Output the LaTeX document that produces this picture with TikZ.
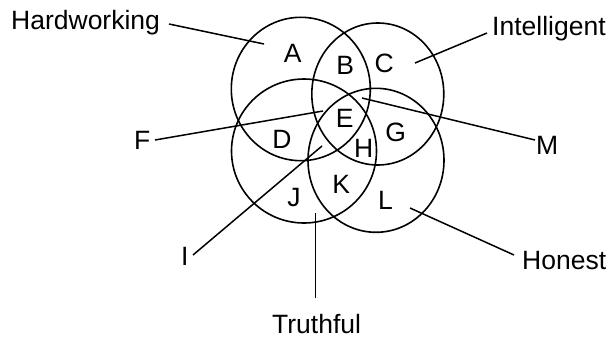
\documentclass[tikz,border=0pt]{standalone}
\usepackage{fontspec}
\setmainfont{Liberation Sans}
\begin{document}
\begin{tikzpicture}[x=1pt,y=-1pt,
  ring/.style={draw=black,line width=1.6pt},
  conn/.style={draw=black,line width=1.5pt},
  lbl/.style={inner sep=0pt,font=\fontsize{26.5}{31}\selectfont},
  region/.style={inner sep=0pt,font=\fontsize{26.5}{31}\selectfont}]
\useasboundingbox (0,0) rectangle (610,340);
% circles
\draw[ring] (300.8,89) ellipse [x radius=69.5, y radius=71.7];
\draw[ring] (377.8,94) ellipse [x radius=66, y radius=71];
\draw[ring] (304,151) ellipse [x radius=72.5, y radius=72];
\draw[ring] (376,160.3) ellipse [x radius=68, y radius=72];
% region labels
\node[region] (A) at (292.8,53.8) {A};
\node[region] (B) at (345.3,65.8) {B};
\node[region] (C) at (384.2,63) {C};
\node[region] (E) at (344.8,118.5) {E};
\node[region] (D) at (282,139.5) {D};
\node[region] (G) at (395.7,132.5) {G};
\node[region] (H) at (363.7,148) {H};
\node[region] (K) at (341.3,184.8) {K};
\node[region] (J) at (294,198) {J};
\node[region] (L) at (385.5,200) {L};
% outer labels
\node[lbl,anchor=base west] (hw) at (11,29.3) {Hardworking};
\node[lbl,anchor=base west] (in) at (492,35) {Intelligent};
\node[lbl,anchor=base west] (F) at (134,149) {F};
\node[lbl,anchor=base west] (I) at (181,265) {I};
\node[lbl,anchor=base west] (M) at (536,154) {M};
\node[lbl,anchor=base west] (ho) at (522,269) {Honest};
\node[lbl,anchor=base west] (tr) at (272,333) {Truthful};
% connector ends
\coordinate (hwA) at (169,24);   \coordinate (hwB) at (264,44);
\coordinate (inA) at (487,33);   \coordinate (inB) at (415,63);
\coordinate (fA) at (155,140);   \coordinate (fB) at (323,111);
\coordinate (iA) at (193,255);   \coordinate (iB) at (322,146);
\coordinate (mA) at (535,140);   \coordinate (mB) at (362,98);
\coordinate (hoA) at (514,255);  \coordinate (hoB) at (410,208);
\coordinate (trA) at (315.7,298); \coordinate (trB) at (315.7,212.7);
\draw[conn] (hwA) -- (hwB);
\draw[conn] (inA) -- (inB);
\draw[conn] (fA) -- (fB);
\draw[conn] (iA) -- (iB);
\draw[conn] (mA) -- (mB);
\draw[conn] (hoA) -- (hoB);
\draw[conn] (trA) -- (trB);
\end{tikzpicture}
\end{document}
